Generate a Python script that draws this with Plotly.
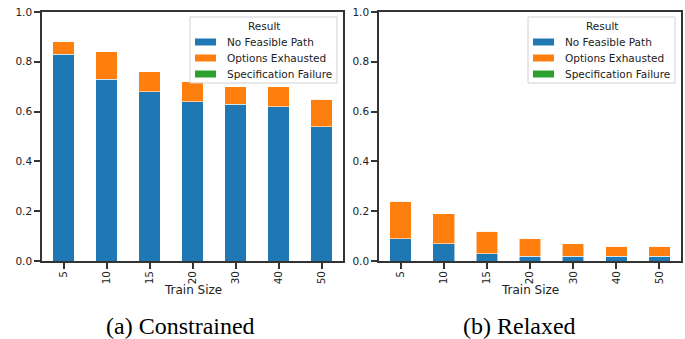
import plotly.graph_objects as go

train_sizes = ["5", "10", "15", "20", "30", "40", "50"]
series_names = ["No Feasible Path", "Options Exhausted", "Specification Failure"]
colors = ["#1f77b4", "#ff7f0e", "#2ca02c"]

constrained_no_path = [0.83, 0.73, 0.68, 0.64, 0.63, 0.62, 0.54]
constrained_exhausted = [0.05, 0.11, 0.08, 0.08, 0.07, 0.08, 0.11]
constrained_spec = [0, 0, 0, 0, 0, 0, 0]

relaxed_no_path = [0.09, 0.07, 0.03, 0.02, 0.02, 0.02, 0.02]
relaxed_exhausted = [0.15, 0.12, 0.09, 0.07, 0.05, 0.04, 0.04]
relaxed_spec = [0, 0, 0, 0, 0, 0, 0]

y_ticks = [0.0, 0.2, 0.4, 0.6, 0.8, 1.0]
captions = ["(a) Constrained", "(b) Relaxed"]
legend_title = "Result"
x_title = "Train Size"

W, H = 685, 339
fig = go.Figure()

panels = [
    ([constrained_no_path, constrained_exhausted, constrained_spec], "x", "y"),
    ([relaxed_no_path, relaxed_exhausted, relaxed_spec], "x2", "y2"),
]
for vals, xa, ya in panels:
    for name, v, c in zip(series_names, vals, colors):
        fig.add_trace(go.Bar(
            x=train_sizes, y=v, name=name, xaxis=xa, yaxis=ya, showlegend=False,
            marker=dict(color=c, line=dict(color="rgba(255,255,255,0.7)", width=0.8)),
        ))

def px_x(p):
    return p / W

def px_y(p):
    return 1 - p / H

axis_common = dict(
    showline=True, mirror=True, linecolor="#333333", linewidth=1.5,
    ticks="outside", ticklen=6, tickwidth=1.5, tickcolor="#333333",
    showgrid=False, zeroline=False, automargin=False,
    tickfont=dict(family="DejaVu Sans", size=10.5, color="#222222"),
)

fig.update_layout(
    width=W, height=H,
    margin=dict(l=0, r=0, t=0, b=0),
    paper_bgcolor="white", plot_bgcolor="white",
    barmode="stack", bargap=0.5,
    font=dict(family="DejaVu Sans", size=11, color="#222222"),
    xaxis=dict(domain=[px_x(42), px_x(343)], anchor="y", tickangle=-90,
               ticklabelstandoff=-2, **axis_common),
    yaxis=dict(domain=[px_y(261), px_y(12)], anchor="x", range=[0, 1], tickvals=y_ticks,
               tickformat=".1f", **axis_common),
    xaxis2=dict(domain=[px_x(379), px_x(681)], anchor="y2", tickangle=-90,
                ticklabelstandoff=-2, **axis_common),
    yaxis2=dict(domain=[px_y(261), px_y(12)], anchor="x2", range=[0, 1], tickvals=y_ticks,
                tickformat=".1f", **axis_common),
)

# x-axis titles
for cx in [192.5, 530]:
    fig.add_annotation(text=x_title, xref="paper", yref="paper", x=px_x(cx), y=px_y(290),
                       xanchor="center", yanchor="middle", showarrow=False,
                       font=dict(family="DejaVu Sans", size=12, color="#222222"))

# Custom legends (matplotlib-style wide patches)
legend_boxes = [
    dict(x0=190, x1=337, y0=17, y1=83, patch_x0=195, patch_x1=216, text_x=225),
    dict(x0=528, x1=675, y0=17, y1=83, patch_x0=533, patch_x1=554, text_x=563),
]
row_y = [42, 58, 74]
for lb in legend_boxes:
    fig.add_shape(type="rect", xref="paper", yref="paper",
                  x0=px_x(lb["x0"]), x1=px_x(lb["x1"]), y0=px_y(lb["y1"]), y1=px_y(lb["y0"]),
                  line=dict(color="#d0d0d0", width=1), fillcolor="rgba(255,255,255,0.85)", layer="above")
    fig.add_annotation(text=legend_title, xref="paper", yref="paper",
                       x=px_x((lb["x0"] + lb["x1"]) / 2), y=px_y(26), xanchor="center", yanchor="middle",
                       showarrow=False, font=dict(family="DejaVu Sans", size=10.5, color="#222222"))
    for name, c, ry in zip(series_names, colors, row_y):
        fig.add_shape(type="rect", xref="paper", yref="paper",
                      x0=px_x(lb["patch_x0"]), x1=px_x(lb["patch_x1"]),
                      y0=px_y(ry + 3.5), y1=px_y(ry - 3.5),
                      line=dict(width=0), fillcolor=c, layer="above")
        fig.add_annotation(text=name, xref="paper", yref="paper",
                           x=px_x(lb["text_x"]), y=px_y(ry), xanchor="left", yanchor="middle",
                           showarrow=False, font=dict(family="DejaVu Sans", size=10.5, color="#222222"))

for text, cx in zip(captions, [180.5, 519]):
    fig.add_annotation(
        text=text, xref="paper", yref="paper", x=px_x(cx), y=px_y(326),
        xanchor="center", yanchor="middle", showarrow=False,
        font=dict(family="Liberation Serif", size=24, color="black"),
    )

fig.write_html(
    "out.html",
    config={"displayModeBar": False},
    post_script="document.body.style.margin='0';document.body.style.overflow='hidden';",
)
